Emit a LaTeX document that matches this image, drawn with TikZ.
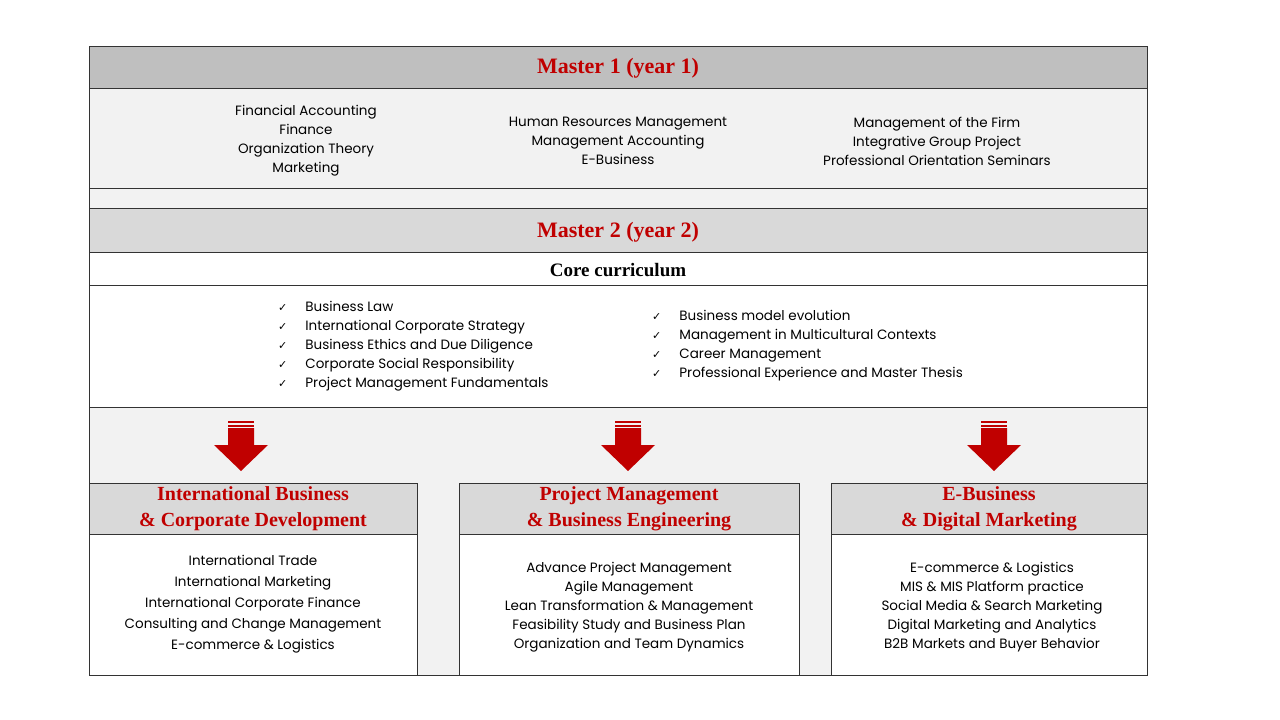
\documentclass[tikz,border=0pt]{standalone}
\usepackage{fontspec}
\setmainfont{Poppins}
\newfontfamily\ttl{Liberation Serif}
\newfontfamily\sym{DejaVu Sans}
\newcommand{\ck}{{\sym\fontsize{11}{19}\selectfont ✓}\hspace{18pt}}
\definecolor{hdA}{HTML}{BFBFBF}
\definecolor{hdB}{HTML}{D9D9D9}
\definecolor{lg}{HTML}{F2F2F2}
\definecolor{rd}{HTML}{C00000}
\begin{document}
\begin{tikzpicture}[x=1pt,y=-1pt,
  box/.style={draw=black!80,line width=0.6pt},
  body/.style={align=center,font=\fontsize{13.5}{19}\selectfont,inner sep=0},
  lst/.style={align=left,font=\fontsize{13.5}{19}\selectfont,inner sep=0,anchor=west},
  ttlA/.style={font=\ttl\bfseries\fontsize{22}{24}\selectfont,text=rd,inner sep=0},
  ttlB/.style={font=\ttl\bfseries\fontsize{20}{26}\selectfont,text=rd,inner sep=0,align=center},
  arr/.style={fill=rd,draw=none}]
\useasboundingbox (0,0) rectangle (1280,720);
\fill[white] (0,0) rectangle (1280,720);
% Master 1
\filldraw[box,fill=hdA] (89,46) rectangle (1147,88);
\filldraw[box,fill=lg] (89,88) rectangle (1147,188);
\filldraw[box,fill=lg] (89,188) rectangle (1147,208);
\node[ttlA] (m1) at (618,68) {Master 1 (year 1)};
\node[body] (c1) at (306,141) {Financial Accounting\\Finance\\Organization Theory\\Marketing};
\node[body] (c2) at (618,141) {Human Resources Management\\Management Accounting\\E-Business};
\node[body] (c3) at (937,141) {Management of the Firm\\Integrative Group Project\\Professional Orientation Seminars};
% Master 2
\filldraw[box,fill=hdB] (89,208) rectangle (1147,252);
\node[ttlA] (m2) at (618,232) {Master 2 (year 2)};
\filldraw[box,fill=white] (89,252) rectangle (1147,285);
\node[font=\ttl\bfseries\fontsize{19}{19}\selectfont,inner sep=0] (core) at (618,270) {Core curriculum};
\filldraw[box,fill=white] (89,285) rectangle (1147,407);
\node[lst] (l1) at (278,346) {\ck Business Law\\\ck International Corporate Strategy\\\ck Business Ethics and Due Diligence\\\ck Corporate Social Responsibility\\\ck Project Management Fundamentals};
\node[lst] (l2) at (652,346) {\ck Business model evolution\\\ck Management in Multicultural Contexts\\\ck Career Management\\\ck Professional Experience and Master Thesis};
% grey area
\filldraw[box,fill=lg] (89,407) -- (1147,407) -- (1147,675) -- (89,675) -- cycle;
% arrows
\foreach \cx/\nm in {241/a1,628/a2,994/a3}{
  \coordinate (\nm) at (\cx,421);
  \fill[arr] (\cx-13,421) rectangle (\cx+13,423);
  \fill[arr] (\cx-13,425) rectangle (\cx+13,427);
  \fill[arr] (\cx-13,428) -- (\cx+13,428) -- (\cx+13,445) -- (\cx+27,445) -- (\cx,471) -- (\cx-27,445) -- (\cx-13,445) -- cycle;
}
% boxes
\foreach \xa/\xb in {89/417,459/799,831/1147}{
  \filldraw[box,fill=hdB] (\xa,483) rectangle (\xb,534);
  \filldraw[box,fill=white] (\xa,534) rectangle (\xb,675);
}
\node[ttlB] (t1) at (253,509) {International\ Business\\\&\ Corporate Development};
\node[ttlB] (t2) at (629,509) {Project Management\\\&\ Business Engineering};
\node[ttlB] (t3) at (989,509) {E-Business\\\&\ Digital Marketing};
\node[body,font=\fontsize{13.5}{21}\selectfont] (b1) at (253,604) {International Trade\\International Marketing\\International Corporate Finance\\Consulting and Change Management\\E-commerce \& Logistics};
\node[body] (b2) at (629,607) {Advance Project Management\\Agile Management\\Lean Transformation \& Management\\Feasibility Study and Business Plan\\Organization and Team Dynamics};
\node[body] (b3) at (992,607) {E-commerce \& Logistics\\MIS \& MIS Platform practice\\Social Media \& Search Marketing\\Digital Marketing and Analytics\\B2B Markets and Buyer Behavior};
\end{tikzpicture}
\end{document}
